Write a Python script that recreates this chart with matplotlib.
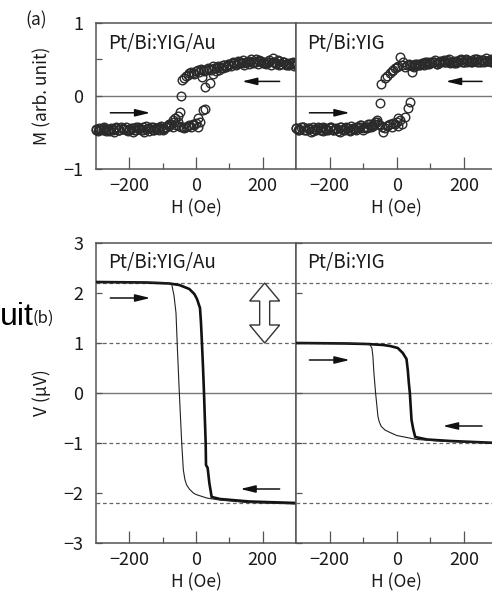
import matplotlib
matplotlib.use("Agg")
import matplotlib.pyplot as plt
from matplotlib.patches import Polygon
from matplotlib.ticker import FixedLocator

plt.rcParams['font.family'] = ['Noto Sans CJK JP', 'DejaVu Sans']

# ---------------- data ----------------
# (a) magnetization, Pt/Bi:YIG/Au
H_au_up = [-300, -290, -280, -270, -260, -250, -240, -230, -220, -210, -200, -190, -180, -170,
           -160, -150, -140, -130, -120, -110, -100, -90, -80, -70, -60, -50, -40, -30, -20,
           -10, 0, 6, 12, 21, 27, 27, 18, 42, 50, 60, 70, 80, 90, 100, 110, 120, 130, 140, 150,
           160, 170, 180, 190, 200, 210, 220, 230, 240, 250, 260, 270, 280, 290, 300]
M_au_up = [-0.46, -0.44, -0.47, -0.45, -0.48, -0.45, -0.44, -0.47, -0.45, -0.43, -0.46, -0.44,
           -0.42, -0.45, -0.43, -0.41, -0.44, -0.42, -0.45, -0.43, -0.47, -0.43, -0.41, -0.42,
           -0.40, -0.41, -0.43, -0.42, -0.40, -0.39, -0.37, -0.30, -0.35, -0.19, -0.18, 0.12,
           0.26, 0.18, 0.30, 0.34, 0.36, 0.38, 0.40, 0.42, 0.45, 0.44, 0.47, 0.45, 0.46, 0.48,
           0.45, 0.47, 0.49, 0.46, 0.44, 0.47, 0.52, 0.45, 0.43, 0.46, 0.44, 0.42, 0.45, 0.43]
H_au_dn = [300, 290, 280, 270, 260, 250, 240, 230, 220, 210, 200, 190, 180, 170, 160, 150, 140,
           130, 120, 110, 100, 90, 80, 70, 60, 50, 40, 30, 20, 10, 0, -10, -20, -30, -35, -42,
           -44, -48, -55, -62, -70, -80, -90, -100, -110, -120, -130, -140, -150, -160, -170,
           -180, -190, -200, -210, -220, -230, -240, -250, -260, -270, -280, -290, -300]
M_au_dn = [0.44, 0.47, 0.45, 0.43, 0.46, 0.48, 0.44, 0.46, 0.49, 0.47, 0.45, 0.48, 0.50, 0.46,
           0.44, 0.47, 0.49, 0.45, 0.43, 0.46, 0.44, 0.41, 0.43, 0.40, 0.38, 0.41, 0.37, 0.35,
           0.36, 0.33, 0.34, 0.31, 0.32, 0.27, 0.25, 0.22, 0.00, -0.22, -0.28, -0.30, -0.33,
           -0.38, -0.42, -0.44, -0.47, -0.44, -0.46, -0.48, -0.45, -0.47, -0.44, -0.46, -0.49,
           -0.45, -0.47, -0.44, -0.46, -0.43, -0.47, -0.45, -0.48, -0.44, -0.46, -0.45]
H_au_extra = [-295, -285, -275, -265, -255, -245, -235, -225, -215, -205, -195, -185, -175,
              -165, -155, -145, -135, -125, -115, -105, -95, -85, -75, -65,
              -55, -45, -35, -25, -15, -5, 5,
              -25, -15, -5, 5, 15, 25, 35,
              45, 55, 65, 75, 85, 95, 105, 115, 125, 135, 145, 155, 165, 175, 185, 195, 205,
              215, 225, 235, 245, 255, 265, 275, 285, 295]
M_au_extra = [-0.48, -0.45, -0.43, -0.47, -0.44, -0.49, -0.46, -0.42, -0.45, -0.48, -0.44,
              -0.47, -0.43, -0.46, -0.49, -0.44, -0.42, -0.46, -0.44, -0.41, -0.45, -0.40,
              -0.38, -0.35,
              -0.36, -0.42, -0.44, -0.41, -0.43, -0.40, -0.42,
              0.29, 0.33, 0.30, 0.35, 0.37, 0.34, 0.38,
              0.36, 0.39, 0.41, 0.38, 0.42, 0.44, 0.41, 0.45, 0.48, 0.46, 0.43, 0.47, 0.50,
              0.46, 0.44, 0.48, 0.45, 0.47, 0.43, 0.46, 0.49, 0.44, 0.47, 0.42, 0.45, 0.41]

# (a) magnetization, Pt/Bi:YIG
H_y_up = [-300, -290, -280, -270, -260, -250, -240, -230, -220, -210, -200, -190, -180, -170,
          -160, -150, -140, -130, -120, -110, -100, -90, -80, -70, -60, -50, -42, -30, -20,
          -10, 0, 3, 10, 24, 33, 39, 45, 50, 60, 70, 80, 90, 100, 110, 120, 130, 140, 150, 160,
          170, 180, 190, 200, 210, 220, 230, 240, 250, 260, 270, 280, 290, 300]
M_y_up = [-0.44, -0.46, -0.43, -0.47, -0.45, -0.42, -0.46, -0.44, -0.48, -0.45, -0.43, -0.46,
          -0.44, -0.42, -0.45, -0.43, -0.47, -0.44, -0.42, -0.40, -0.44, -0.42, -0.39, -0.41,
          -0.35, -0.40, -0.49, -0.41, -0.39, -0.37, -0.36, -0.30, -0.33, -0.29, -0.17, -0.08,
          0.33, 0.40, 0.42, 0.44, 0.43, 0.46, 0.45, 0.47, 0.44, 0.48, 0.46, 0.49, 0.47, 0.45,
          0.48, 0.50, 0.47, 0.49, 0.46, 0.48, 0.51, 0.47, 0.49, 0.48, 0.46, 0.50, 0.48]
H_y_dn = [300, 290, 280, 270, 260, 250, 240, 230, 220, 210, 200, 190, 180, 170, 160, 150, 140,
          130, 120, 110, 100, 90, 80, 70, 60, 50, 40, 30, 18, 9, 0, -6, -15, -21, -28, -36, -46,
          -51, -60, -68, -78, -90, -100, -110, -120, -130, -140, -150, -160, -170, -180, -190,
          -200, -210, -220, -230, -240, -250, -260, -270, -280, -290, -300]
M_y_dn = [0.49, 0.47, 0.50, 0.48, 0.46, 0.49, 0.47, 0.50, 0.48, 0.46, 0.47, 0.49, 0.46, 0.48,
          0.45, 0.47, 0.49, 0.46, 0.44, 0.47, 0.46, 0.44, 0.45, 0.43, 0.44, 0.42, 0.43, 0.42,
          0.47, 0.53, 0.40, 0.38, 0.34, 0.31, 0.28, 0.25, 0.17, -0.10, -0.33, -0.38, -0.42,
          -0.44, -0.46, -0.43, -0.47, -0.45, -0.48, -0.44, -0.46, -0.49, -0.45, -0.47, -0.44,
          -0.46, -0.43, -0.47, -0.45, -0.48, -0.44, -0.46, -0.43, -0.45, -0.44]
H_y_extra = [-295, -285, -275, -265, -255, -245, -235, -225, -215, -205, -195, -185, -175,
             -165, -155, -145, -135, -125, -115, -105, -95, -85, -75, -65,
             -55, -45, -35, -25, -15, -5, 5, 15,
             -10, 5, 15, 25, 35,
             45, 55, 65, 75, 85, 95, 105, 115, 125, 135, 145, 155, 165, 175, 185, 195, 205,
             215, 225, 235, 245, 255, 265, 275, 285, 295]
M_y_extra = [-0.46, -0.43, -0.47, -0.44, -0.49, -0.45, -0.42, -0.46, -0.44, -0.47, -0.43,
             -0.45, -0.48, -0.42, -0.46, -0.44, -0.41, -0.45, -0.43, -0.40, -0.42, -0.38,
             -0.40, -0.36,
             -0.38, -0.42, -0.44, -0.40, -0.42, -0.39, -0.41, -0.38,
             0.36, 0.41, 0.43, 0.40, 0.44,
             0.41, 0.44, 0.42, 0.45, 0.47, 0.44, 0.46, 0.49, 0.45, 0.48, 0.46, 0.50, 0.47,
             0.45, 0.49, 0.47, 0.51, 0.48, 0.46, 0.50, 0.47, 0.49, 0.52, 0.48, 0.46, 0.49]

# (b) voltage, Pt/Bi:YIG/Au
H_vau_up = [-300, -150, -80, -50, -20, -5, 3, 8, 12, 15, 17, 21, 24, 29, 30, 35, 40, 47, 72,
            160, 300]
V_vau_up = [2.22, 2.21, 2.19, 2.16, 2.08, 1.98, 1.88, 1.78, 1.70, 1.40, 1.12, 0.52, 0.0, -1.0,
            -1.44, -1.50, -1.80, -2.08, -2.12, -2.17, -2.20]
H_vau_dn = [300, 150, 70, 32, 0, -8, -20, -28, -33, -38, -43, -50, -56, -60, -66, -73, -100,
            -300]
V_vau_dn = [-2.22, -2.19, -2.14, -2.10, -2.03, -2.00, -1.92, -1.84, -1.74, -1.54, -0.98, 0.0,
            0.92, 1.60, 1.95, 2.18, 2.21, 2.22]

# (b) voltage, Pt/Bi:YIG
H_vy_up = [-300, -150, -90, -40, -20, 3, 18, 29, 33, 36, 39, 44, 49, 55, 90, 160, 300]
V_vy_up = [1.00, 0.99, 0.98, 0.96, 0.94, 0.90, 0.80, 0.68, 0.45, 0.20, 0.0, -0.54, -0.72,
           -0.88, -0.93, -0.96, -1.00]
H_vy_dn = [300, 150, 60, 30, 0, -20, -35, -46, -52, -56, -63, -68, -71, -74, -80, -120, -300]
V_vy_dn = [-1.00, -0.97, -0.93, -0.89, -0.85, -0.79, -0.74, -0.67, -0.58, -0.47, 0.0, 0.40,
           0.73, 0.90, 0.97, 0.99, 1.00]

x_major = [-200, 0, 200]
x_minor = [-100, 100]
v_dashed = [2.2, 1.0, -1.0, -2.2]

# ---------------- figure ----------------
W, Hh = 492, 598
fig = plt.figure(figsize=(W / 100, Hh / 100), dpi=100)

def frac(x0, y0, x1, y1):
    return [x0 / W, 1 - y1 / Hh, (x1 - x0) / W, (y1 - y0) / Hh]

ax_a1 = fig.add_axes(frac(96, 23, 296, 169))
ax_a2 = fig.add_axes(frac(296, 23, 497.5, 169))
ax_b1 = fig.add_axes(frac(96, 243, 296, 543))
ax_b2 = fig.add_axes(frac(296, 243, 497.5, 543))

spine_c = '#555555'
txt_c = '#1a1a1a'
line_c = '#111111'

def style(ax, ylim, left_labels, yticks, yminor):
    ax.set_xlim(-300, 300)
    ax.set_ylim(*ylim)
    for s in ax.spines.values():
        s.set_color(spine_c)
        s.set_linewidth(1.1)
    ax.xaxis.set_major_locator(FixedLocator(x_major))
    ax.xaxis.set_minor_locator(FixedLocator(x_minor))
    ax.set_xticklabels(['\u2212200', '0', '200'])
    ax.yaxis.set_major_locator(FixedLocator(yticks))
    ax.yaxis.set_minor_locator(FixedLocator(yminor))
    ax.tick_params(axis='x', which='major', direction='in', length=8.6, width=0.9,
                   color=spine_c, labelsize=13, pad=6, labelcolor=txt_c)
    ax.tick_params(axis='x', which='minor', direction='in', length=4.3, width=0.9,
                   color=spine_c)
    ax.tick_params(axis='y', which='both', direction='in', length=4.3, width=0.9,
                   color=spine_c, labelsize=13, pad=9, labelcolor=txt_c,
                   labelleft=left_labels, right=False)
    if left_labels:
        ax.set_yticklabels(['\u2212%d' % (-t) if t < 0 else '%d' % t for t in yticks])

style(ax_a1, (-1, 1), True, [-1, 0, 1], [-0.5, 0.5])
style(ax_a2, (-1, 1), False, [], [])
style(ax_b1, (-3, 3), True, [-3, -2, -1, 0, 1, 2, 3], [])
style(ax_b2, (-3, 3), False, [-3, -2, -1, 0, 1, 2, 3], [])

# zero lines and dashed guides
for ax in (ax_a1, ax_a2, ax_b1, ax_b2):
    ax.axhline(0, color='#777777', lw=1.0, zorder=1)
for ax in (ax_b1, ax_b2):
    for v in v_dashed:
        ax.axhline(v, color='#666666', lw=0.9, ls=(0, (3, 2.2)), zorder=1)

# (a) circles
mk = dict(ls='none', marker='o', ms=6.2, mfc='none', mec='#2a2a2a', mew=1.0, zorder=3,
          clip_on=False)
ax_a1.plot(H_au_up, M_au_up, **mk)
ax_a1.plot(H_au_dn, M_au_dn, **mk)
ax_a1.plot(H_au_extra, M_au_extra, **mk)
ax_a2.plot(H_y_up, M_y_up, **mk)
ax_a2.plot(H_y_dn, M_y_dn, **mk)
ax_a2.plot(H_y_extra, M_y_extra, **mk)

# (b) curves
ax_b1.plot(H_vau_up, V_vau_up, color=line_c, lw=1.9, zorder=3)
ax_b1.plot(H_vau_dn, V_vau_dn, color='#222222', lw=0.8, zorder=3)
ax_b2.plot(H_vy_up, V_vy_up, color=line_c, lw=1.9, zorder=3)
ax_b2.plot(H_vy_dn, V_vy_dn, color='#222222', lw=0.8, zorder=3)

# arrows
ap = dict(arrowstyle='-|>,head_length=0.9,head_width=0.22', lw=1.1, color='#111111',
          shrinkA=0, shrinkB=0, mutation_scale=10)
def arr(ax, tail, tip):
    ax.annotate('', xy=tip, xytext=tail, arrowprops=ap, zorder=4)

arr(ax_a1, (-257, -0.23), (-137, -0.23))
arr(ax_a1, (251, 0.20), (138, 0.20))
arr(ax_a2, (-260, -0.23), (-140, -0.23))
arr(ax_a2, (254, 0.20), (146, 0.20))
arr(ax_b1, (-257, 1.90), (-137, 1.90))
arr(ax_b1, (251, -1.92), (133, -1.92))
arr(ax_b2, (-260, 0.66), (-140, 0.66))
arr(ax_b2, (254, -0.66), (137, -0.66))

# open double arrow between the two dashed levels
cx, hw, sw = 206, 45, 15
top_v, bot_v, hh = 2.2, 1.0, 0.36
poly = [(cx, top_v), (cx + hw, top_v - hh), (cx + sw, top_v - hh), (cx + sw, bot_v + hh),
        (cx + hw, bot_v + hh), (cx, bot_v), (cx - hw, bot_v + hh), (cx - sw, bot_v + hh),
        (cx - sw, top_v - hh), (cx - hw, top_v - hh)]
ax_b1.add_patch(Polygon(poly, closed=True, facecolor='white', edgecolor='#333333', lw=1.0,
                        zorder=4))

# panel titles
tfs = 13.5
ax_a1.text(-263, 0.72, 'Pt/Bi:YIG/Au', fontsize=tfs, color=txt_c, va='center', ha='left')
ax_a2.text(-266, 0.72, 'Pt/Bi:YIG', fontsize=tfs, color=txt_c, va='center', ha='left')
ax_b1.text(-263, 2.61, 'Pt/Bi:YIG/Au', fontsize=tfs, color=txt_c, va='center', ha='left')
ax_b2.text(-266, 2.61, 'Pt/Bi:YIG', fontsize=tfs, color=txt_c, va='center', ha='left')

# axis labels
for ax in (ax_a1, ax_a2, ax_b1, ax_b2):
    ax.set_xlabel('H (Oe)', fontsize=12.5, color=txt_c, labelpad=3)
ax_a1.set_ylabel('M (arb. unit)', fontsize=12.5, color=txt_c, labelpad=9)
ax_b1.set_ylabel('V (\u03bcV)', fontsize=12.5, color=txt_c, labelpad=9)

fig.text(25 / W, 1 - 20 / Hh, '(a)', fontsize=12.5, color=txt_c, ha='left', va='center')
fig.text(0 / W, 1 - 325 / Hh, 'uit', fontsize=23, family='Liberation Sans', color='black',
         ha='left', va='baseline')
fig.text(33 / W, 1 - 323 / Hh, '(b)', fontsize=12, color=txt_c, ha='left', va='baseline')

fig.savefig('out.png', dpi=100)
